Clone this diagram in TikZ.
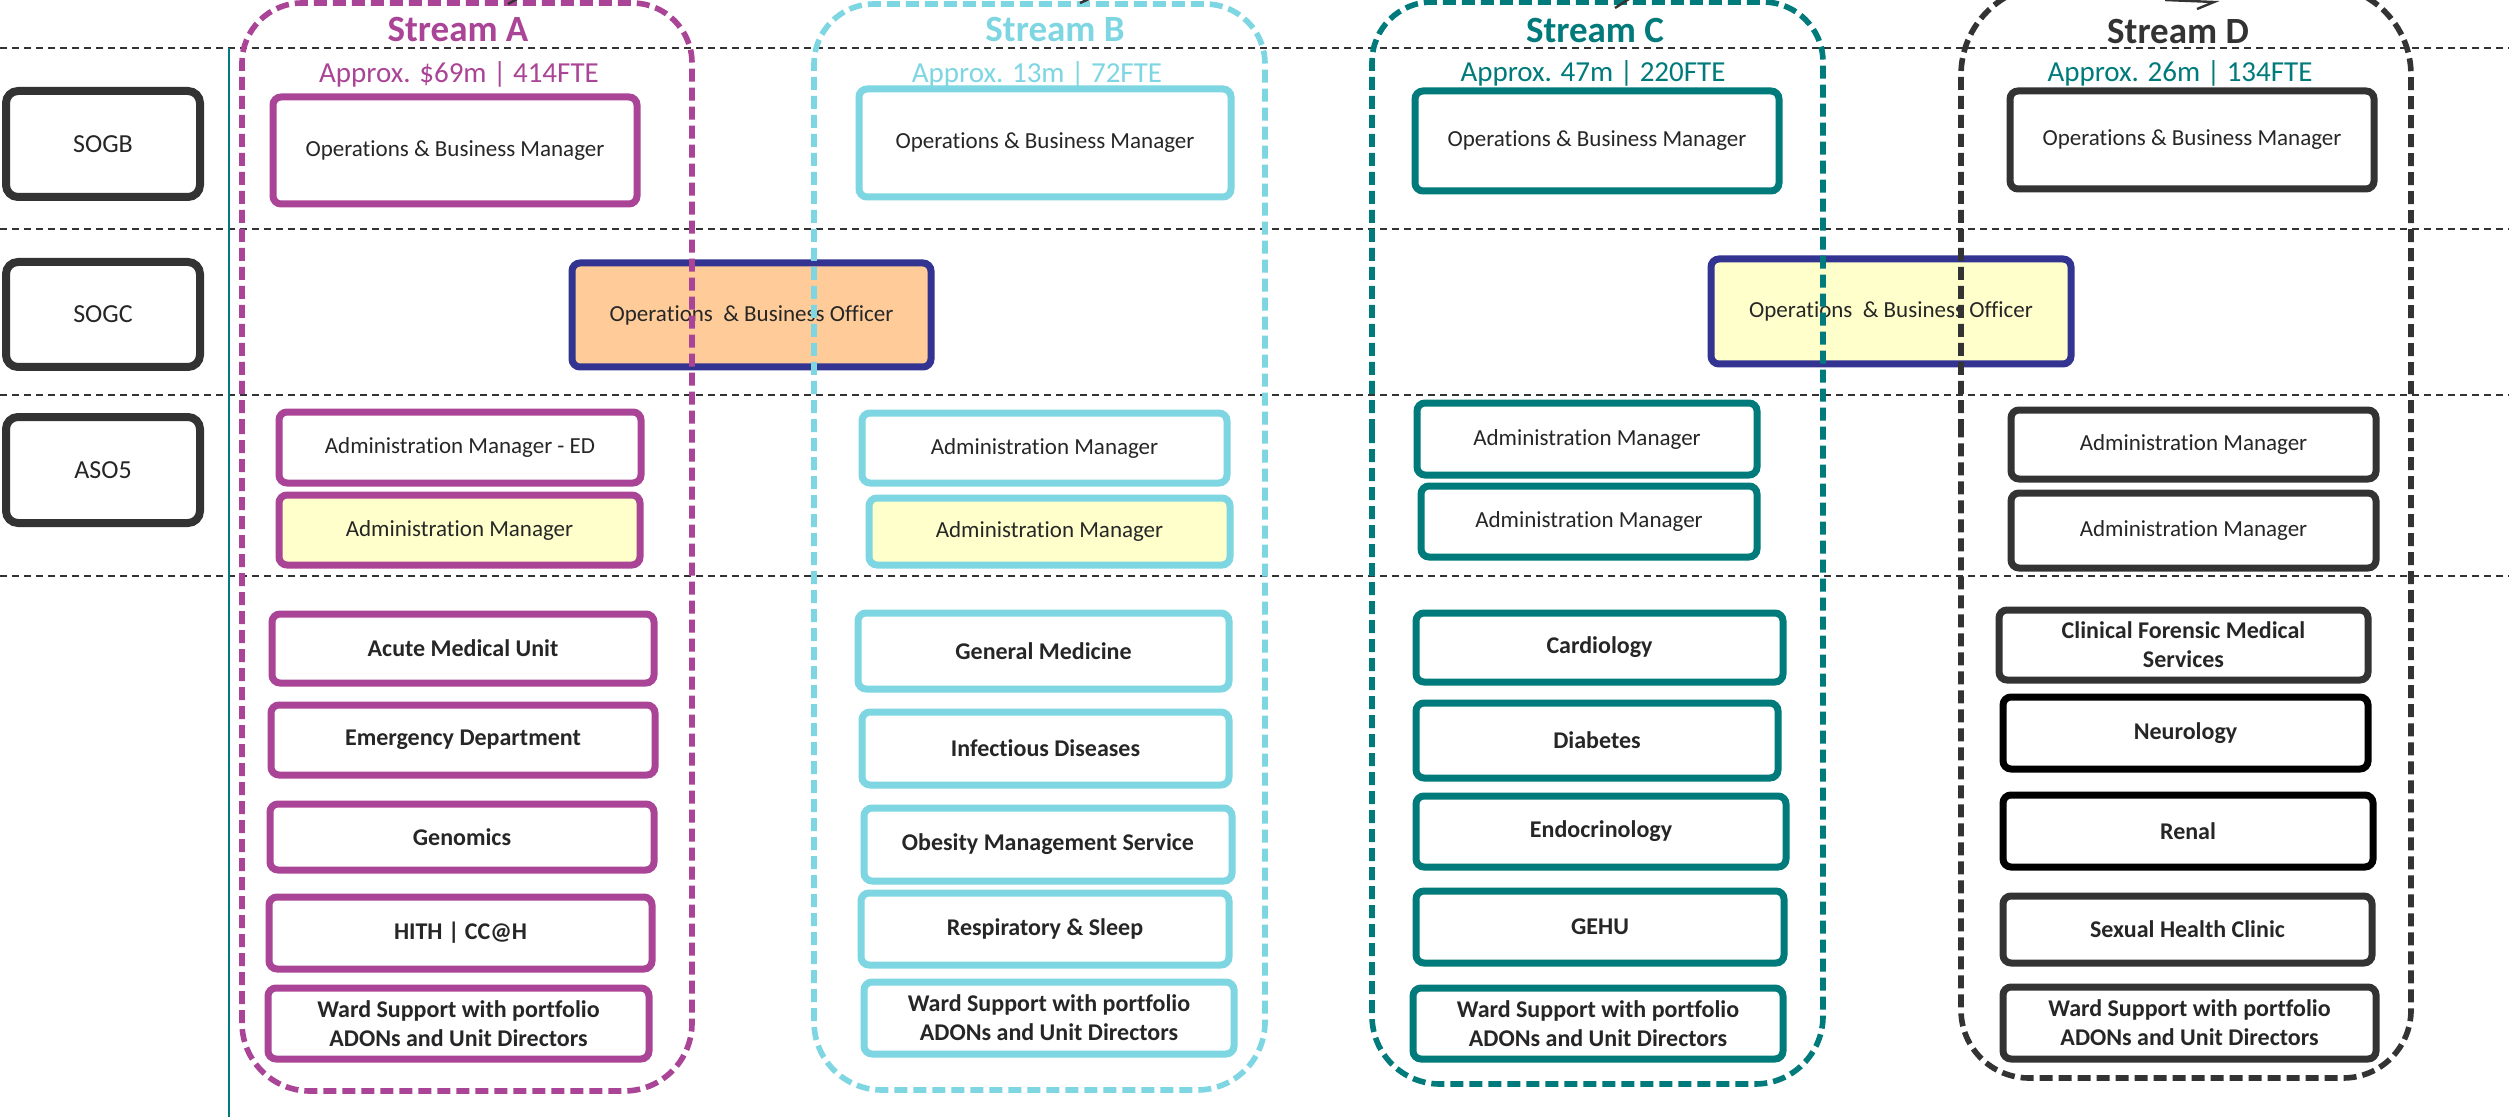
\documentclass[tikz,border=0pt]{standalone}
\usepackage{fontspec}
\setmainfont{Carlito}[Ligatures=NoCommon]
\definecolor{cpurple}{RGB}{170,68,150}
\definecolor{ccyan}{RGB}{125,214,225}
\definecolor{cteal}{RGB}{0,122,122}
\definecolor{cdark}{RGB}{51,51,51}
\definecolor{cnavy}{RGB}{51,51,145}
\definecolor{corange}{RGB}{255,204,153}
\definecolor{cyellow}{RGB}{255,255,204}
\definecolor{ctext}{RGB}{38,38,38}
% \bx{style}{x1}{y1}{x2}{y2}{name}{text}
\newcommand\bx[7]{\node[#1, minimum width={(#4-#2)*0.5pt}, minimum height={(#5-#3)*0.5pt}] (#6) at ({(#2+#4)/2},{(#3+#5)/2}) {#7};}
\begin{document}
\begin{tikzpicture}[x=0.5pt,y=-0.5pt,
 sep/.style={cdark, line width=1pt, dash pattern=on 3.5pt off 2.5pt},
 stream/.style={line width=2.8pt, dash pattern=on 6.5pt off 3pt},
 box/.style={draw, line width=3.5pt, rounded corners=4pt, fill=white, inner sep=0pt, align=center, text=ctext, font=\fontsize{11.5}{14}\selectfont},
 dept/.style={box, font=\bfseries\fontsize{12}{14.5}\selectfont},
 lbl/.style={box, draw=cdark, line width=4pt, rounded corners=6pt, font=\fontsize{13}{15}\selectfont},
 title/.style={anchor=base, font=\bfseries\fontsize{18.5}{20}\selectfont},
 sub/.style={anchor=base, font=\fontsize{14.5}{16}\selectfont},
 frag/.style={cdark, line width=1.2pt},
]
\useasboundingbox (0,0) rectangle (2509,1117);
\clip (0,0) rectangle (2509,1117);
\fill[white] (0,0) rectangle (2509,1117);

% separators
\draw[sep] (0,48) -- (2509,48);
\draw[sep] (0,229) -- (2509,229);
\draw[sep] (0,395) -- (2509,395);
\draw[sep] (0,576) -- (2509,576);
\draw[cteal, line width=1pt] (229,48) -- (229,1117);

% level labels
\bx{lbl}{6}{91}{200}{197}{sogb}{SOGB}
\bx{lbl}{6}{262}{200}{367}{sogc}{SOGC}
\bx{lbl}{6}{417}{200}{523}{aso5}{ASO5}

% officers
\bx{box, draw=cnavy, fill=corange}{572}{263}{931}{367}{offA}{Operations\ \ \& Business Officer}
\bx{box, draw=cnavy, fill=cyellow}{1711}{259}{2071}{364}{offC}{Operations\ \ \& Business Officer}

% Stream A
\node[title, text=cpurple] (tA) at (458,42) {Stream A};
\node[sub, text=cpurple] (sA) at (459,83) {Approx. \$69m | 414FTE};
\bx{box, draw=cpurple}{273}{97}{637}{204}{aOBM}{Operations \& Business Manager}
\bx{box, draw=cpurple}{279}{412}{641}{483}{aAM1}{Administration Manager - ED}
\bx{box, draw=cpurple, fill=cyellow}{279}{495}{640}{565}{aAM2}{Administration Manager}
\bx{dept, draw=cpurple}{272}{614}{654}{683}{a1}{Acute Medical Unit}
\bx{dept, draw=cpurple}{271}{705}{655}{775}{a2}{Emergency Department}
\bx{dept, draw=cpurple}{270}{804}{654}{870}{a3}{Genomics}
\bx{dept, draw=cpurple}{269}{897}{652}{969}{a4}{HITH | CC@H}
\bx{dept, draw=cpurple}{268}{988}{649}{1059}{a5}{Ward Support with portfolio\\ADONs and Unit Directors}

% Stream B
\node[title, text=ccyan] (tB) at (1055,42) {Stream B};
\node[sub, text=ccyan] (sB) at (1037,83) {Approx. 13m | 72FTE};
\bx{box, draw=ccyan}{859}{89}{1231}{197}{bOBM}{Operations \& Business Manager}
\bx{box, draw=ccyan}{862}{413}{1227}{483}{bAM1}{Administration Manager}
\bx{box, draw=ccyan, fill=cyellow}{869}{498}{1230}{565}{bAM2}{Administration Manager}
\bx{dept, draw=ccyan}{858}{613}{1229}{689}{b1}{General Medicine}
\bx{dept, draw=ccyan}{862}{712}{1229}{785}{b2}{Infectious Diseases}
\bx{dept, draw=ccyan}{864}{808}{1232}{881}{b3}{Obesity Management Service}
\bx{dept, draw=ccyan}{861}{893}{1229}{965}{b4}{Respiratory \& Sleep}
\bx{dept, draw=ccyan}{864}{982}{1234}{1054}{b5}{Ward Support with portfolio\\ADONs and Unit Directors}

% Stream C
\node[title, text=cteal] (tC) at (1595,43) {Stream C};
\node[sub, text=cteal] (sC) at (1593,82) {Approx. 47m | 220FTE};
\bx{box, draw=cteal}{1415}{91}{1779}{191}{cOBM}{Operations \& Business Manager}
\bx{box, draw=cteal}{1417}{403}{1757}{475}{cAM1}{Administration Manager}
\bx{box, draw=cteal}{1421}{486}{1757}{557}{cAM2}{Administration Manager}
\bx{dept, draw=cteal}{1416}{613}{1783}{682}{c1}{Cardiology}
\bx{dept, draw=cteal}{1416}{703}{1778}{778}{c2}{Diabetes}
\bx{dept, draw=cteal}{1416}{796}{1786}{867}{c3}{Endocrinology}
\bx{dept, draw=cteal}{1416}{891}{1784}{963}{c4}{GEHU}
\bx{dept, draw=cteal}{1413}{988}{1783}{1059}{c5}{Ward Support with portfolio\\ADONs and Unit Directors}

% Stream D
\node[title, text=cdark] (tD) at (2178,44) {Stream D};
\node[sub, text=cteal] (sD) at (2180,82) {Approx. 26m | 134FTE};
\bx{box, draw=cdark}{2010}{91}{2374}{189}{dOBM}{Operations \& Business Manager}
\bx{box, draw=cdark}{2011}{410}{2376}{479}{dAM1}{Administration Manager}
\bx{box, draw=cdark}{2011}{493}{2376}{568}{dAM2}{Administration Manager}
\bx{dept, draw=cdark}{1999}{610}{2368}{680}{d1}{Clinical Forensic Medical\\Services}
\bx{dept, draw=black}{2003}{697}{2368}{769}{d2}{Neurology}
\bx{dept, draw=black}{2003}{795}{2373}{867}{d3}{Renal}
\bx{dept, draw=cdark}{2003}{896}{2372}{963}{d4}{Sexual Health Clinic}
\bx{dept, draw=cdark}{2003}{987}{2376}{1059}{d5}{Ward Support with portfolio\\ADONs and Unit Directors}

% stream frames
\draw[stream, cpurple] (242,500) [rounded corners=30pt] -- (242,3) -- (692,3) -- (692,500) [rounded corners=34pt] -- (692,1091) -- (242,1091) -- cycle;
\draw[stream, ccyan] (814,500) [rounded corners=30pt] -- (814,4) -- (1265,4) -- (1265,500) [rounded corners=34pt] -- (1265,1090) -- (814,1090) -- cycle;
\draw[stream, cteal] (1372,500) [rounded corners=30pt] -- (1372,2) -- (1823,2) -- (1823,500) [rounded corners=34pt] -- (1823,1084) -- (1372,1084) -- cycle;
\draw[stream, cdark] (1961,500) [rounded corners=45pt] -- (1961,-15) -- (2411,-15) -- (2411,500) [rounded corners=34pt] -- (2411,1078) -- (1961,1078) -- cycle;

% cut-off connector fragments at the top edge
\coordinate (f1a) at (508,4); \coordinate (f1b) at (517,-1);
\coordinate (f2a) at (1080,3); \coordinate (f2b) at (1089,-1);
\coordinate (f3a) at (1615,8); \coordinate (f3b) at (1629,-1);
\coordinate (f4a) at (2165,0); \coordinate (f4b) at (2214,2); \coordinate (f4c) at (2197,9);
\draw[frag] (f1a) -- (f1b);
\draw[frag] (f2a) -- (f2b);
\draw[frag] (f3a) -- (f3b);
\draw[frag] (f4a) -- (f4b) -- (f4c);
\end{tikzpicture}
\end{document}
